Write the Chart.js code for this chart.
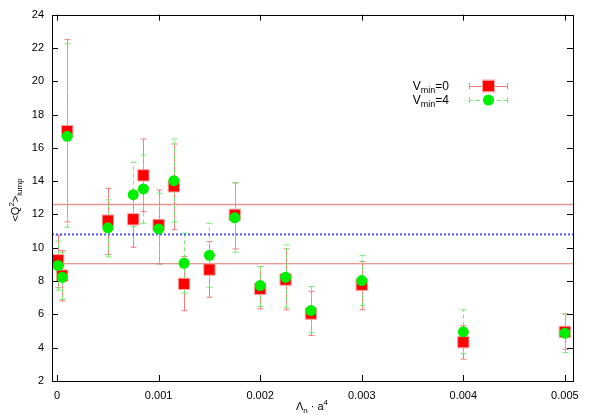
<!DOCTYPE html>
<html>
<head>
<meta charset="utf-8">
<script src="https://cdn.jsdelivr.net/npm/chart.js@4"></script>
<style>
  html, body { margin:0; padding:0; background:#fff; }
  #wrap { width:593px; height:415px; }
</style>
</head>
<body>
<div id="wrap"><canvas id="chart" width="593" height="415"></canvas></div>
<script>
// lattice spacing values Λn·a^4
const lambdaA4 = [0.00001, 0.00005, 0.0001, 0.0005, 0.00075, 0.00085, 0.001, 0.00115, 0.00125,
                  0.0015, 0.00175, 0.002, 0.00225, 0.0025, 0.003, 0.004, 0.005];
// Vmin=0
const q2v0    = [9.25, 8.33, 17.0, 11.63, 11.71, 14.35, 11.37, 13.69, 7.83, 8.69, 11.98, 7.53, 8.09, 6.05, 7.78, 4.33, 4.95];
const q2v0Lo  = [7.6, 6.8, 11.55, 9.6, 10.03, 12.17, 9.03, 11.09, 6.22, 7.03, 9.93, 6.33, 6.27, 4.73, 6.27, 3.31, 3.9];
const q2v0Hi  = [10.75, 9.83, 22.5, 13.57, 13.4, 16.53, 13.47, 16.23, 9.47, 10.37, 13.9, 8.87, 9.93, 7.39, 9.17, 5.32, 6.03];
// Vmin=4
const q2v4    = [8.93, 8.23, 16.69, 11.2, 13.19, 13.53, 11.13, 14.03, 9.07, 9.55, 11.8, 7.73, 8.23, 6.23, 8.03, 4.95, 4.87];
const q2v4Lo  = [7.45, 6.9, 11.23, 9.45, 11.27, 11.47, 9.03, 11.53, 7.27, 7.63, 9.73, 6.47, 6.4, 4.9, 6.53, 3.64, 3.7];
const q2v4Hi  = [10.4, 9.73, 22.25, 12.88, 15.13, 15.57, 13.27, 16.53, 10.88, 11.47, 13.9, 8.87, 10.17, 7.67, 9.53, 6.28, 6.03];
// reference levels
const upperLevel = 12.6;
const midLevel = 10.8;
const lowerLevel = 9.04;

const xTicks = [0, 0.001, 0.002, 0.003, 0.004, 0.005];
const xTickLabels = ['0', '0.001', '0.002', '0.003', '0.004', '0.005'];
const yTicks = [2, 4, 6, 8, 10, 12, 14, 16, 18, 20, 22, 24];
const xMin = -0.00005, xMax = 0.00508;

const FONT = '"Liberation Sans", Arial, sans-serif';
const RED_BAR = 'rgba(245,110,110,0.9)';
const GREEN_BAR = 'rgba(110,235,110,0.95)';

function pts(xs, ys){ return xs.map((x,i)=>({x:x, y:ys[i]})); }
function hline(v){ return [{x:xMin, y:v}, {x:xMax, y:v}]; }

// error bars, frame, inward ticks, legend and axis titles
const decor = {
  id: 'decor',
  beforeDatasetsDraw(chart){
    const ctx = chart.ctx, xs = chart.scales.x, ys = chart.scales.y;
    const bar = (lo, hi, col, dash) => {
      ctx.save();
      ctx.strokeStyle = col; ctx.lineWidth = 1;
      lambdaA4.forEach((x,i)=>{
        const px = Math.round(xs.getPixelForValue(x)) + 0.5;
        const y1 = ys.getPixelForValue(lo[i]), y2 = ys.getPixelForValue(hi[i]);
        ctx.setLineDash(dash);
        ctx.beginPath(); ctx.moveTo(px, y1); ctx.lineTo(px, y2); ctx.stroke();
        ctx.setLineDash([]);
        ctx.beginPath();
        ctx.moveTo(px-3, y1); ctx.lineTo(px+3, y1);
        ctx.moveTo(px-3, y2); ctx.lineTo(px+3, y2);
        ctx.stroke();
      });
      ctx.restore();
    };
    bar(q2v0Lo, q2v0Hi, RED_BAR, []);
    bar(q2v4Lo, q2v4Hi, GREEN_BAR, [4,3]);
  },
  afterDraw(chart){
    const ctx = chart.ctx, a = chart.chartArea, xs = chart.scales.x, ys = chart.scales.y;
    ctx.save();
    ctx.strokeStyle = '#000'; ctx.lineWidth = 1;
    ctx.strokeRect(Math.round(a.left)+0.5, Math.round(a.top)+0.5, Math.round(a.right-a.left), Math.round(a.bottom-a.top));
    ctx.beginPath();
    xTicks.forEach(v=>{
      const px = Math.round(xs.getPixelForValue(v)) + 0.5;
      ctx.moveTo(px, a.bottom); ctx.lineTo(px, a.bottom-6);
      ctx.moveTo(px, a.top); ctx.lineTo(px, a.top+6);
    });
    yTicks.forEach(v=>{
      const py = Math.round(ys.getPixelForValue(v)) + 0.5;
      ctx.moveTo(a.left, py); ctx.lineTo(a.left+6, py);
      ctx.moveTo(a.right, py); ctx.lineTo(a.right-6, py);
    });
    ctx.stroke();

    // legend
    ctx.fillStyle = '#000';
    ctx.textBaseline = 'alphabetic';
    const legendRow = (y, label, col, dash, drawMark) => {
      ctx.font = '12px ' + FONT;
      const wEq = ctx.measureText('=' + label).width;
      ctx.font = '9px ' + FONT;
      const wSub = ctx.measureText('min').width;
      ctx.font = '12px ' + FONT;
      const wV = ctx.measureText('V').width;
      let x = 449 - wEq - wSub - wV;
      ctx.textAlign = 'left';
      ctx.fillText('V', x, y + 4); x += wV;
      ctx.font = '9px ' + FONT;
      ctx.fillText('min', x, y + 7); x += wSub;
      ctx.font = '12px ' + FONT;
      ctx.fillText('=' + label, x, y + 4);
      ctx.save();
      ctx.strokeStyle = col; ctx.lineWidth = 1; ctx.setLineDash(dash);
      ctx.beginPath(); ctx.moveTo(469, y+0.5); ctx.lineTo(508, y+0.5); ctx.stroke();
      ctx.setLineDash([]);
      ctx.beginPath();
      ctx.moveTo(469.5, y-3); ctx.lineTo(469.5, y+3);
      ctx.moveTo(507.5, y-3); ctx.lineTo(507.5, y+3);
      ctx.stroke();
      ctx.restore();
      drawMark(488.5, y);
    };
    legendRow(86, '0', RED_BAR, [], (x,y)=>{
      ctx.fillStyle = '#ff0000'; ctx.strokeStyle = 'rgba(255,160,160,1)';
      ctx.fillRect(x-5.5, y-5.5, 11, 11); ctx.strokeRect(x-6, y-6, 12, 12);
      ctx.fillStyle = '#000';
    });
    legendRow(100, '4', GREEN_BAR, [4,3], (x,y)=>{
      ctx.fillStyle = '#00ee00';
      ctx.beginPath(); ctx.arc(x, y, 5.5, 0, Math.PI*2); ctx.fill();
      ctx.fillStyle = '#000';
    });

    // x title: Λn · a^4
    const parts = [['Λ',11,0],['n',8,3],[' · a',11,0],['4',8,-5]];
    let tw = 0;
    parts.forEach(p=>{ ctx.font = p[1]+'px '+FONT; tw += ctx.measureText(p[0]).width; });
    let tx = 312 - tw/2;
    parts.forEach(p=>{ ctx.font = p[1]+'px '+FONT; ctx.fillText(p[0], tx, 410 + p[2]); tx += ctx.measureText(p[0]).width; });

    // y title: <Q^2>lump
    ctx.save();
    ctx.translate(19, 200);
    ctx.rotate(-Math.PI/2);
    const yparts = [['<Q',11,0],['2',8,-5],['>',11,0],['lump',8,3]];
    tw = 0;
    yparts.forEach(p=>{ ctx.font = p[1]+'px '+FONT; tw += ctx.measureText(p[0]).width; });
    tx = -tw/2;
    yparts.forEach(p=>{ ctx.font = p[1]+'px '+FONT; ctx.fillText(p[0], tx, p[2]); tx += ctx.measureText(p[0]).width; });
    ctx.restore();
    ctx.restore();
  }
};

new Chart(document.getElementById('chart'), {
  type: 'scatter',
  data: {
    datasets: [
      { label: 'Vmin=4', data: pts(lambdaA4, q2v4), pointStyle: 'circle', pointRadius: 5.5,
        backgroundColor: '#00ee00', borderColor: '#00ee00', borderWidth: 0 },
      { label: 'Vmin=0', data: pts(lambdaA4, q2v0), pointStyle: 'rect', pointRadius: 8,
        backgroundColor: '#ff0000', borderColor: 'rgba(255,160,160,1)', borderWidth: 1 },
      { label: 'upper', data: hline(upperLevel), showLine: true, pointRadius: 0,
        borderColor: 'rgba(225,140,130,0.9)', borderWidth: 1.5 },
      { label: 'mid', data: hline(midLevel), showLine: true, pointRadius: 0,
        borderColor: '#5050ff', borderWidth: 2, borderDash: [2,2] },
      { label: 'lower', data: hline(lowerLevel), showLine: true, pointRadius: 0,
        borderColor: '#e07a70', borderWidth: 1 }
    ]
  },
  options: {
    responsive: false,
    animation: false,
    layout: { padding: { top: 14, right: 20, left: 0, bottom: 0 } },
    plugins: { legend: { display: false }, tooltip: { enabled: false } },
    scales: {
      x: {
        type: 'linear', min: xMin, max: xMax,
        grid: { display: false, drawTicks: false }, border: { display: false },
        afterBuildTicks: s => { s.ticks = xTicks.map(v=>({value:v})); },
        afterFit: s => { s.height = 34; },
        ticks: { padding: 8, color: '#000', font: { family: FONT, size: 11 }, maxRotation: 0,
                 callback: v => xTickLabels[xTicks.indexOf(v)] }
      },
      y: {
        min: 2, max: 24,
        grid: { display: false, drawTicks: false }, border: { display: false },
        afterBuildTicks: s => { s.ticks = yTicks.map(v=>({value:v})); },
        afterFit: s => { s.width = 52; },
        ticks: { padding: 8, color: '#000', font: { family: FONT, size: 11 } }
      }
    }
  },
  plugins: [decor]
});
</script>
</body>
</html>
